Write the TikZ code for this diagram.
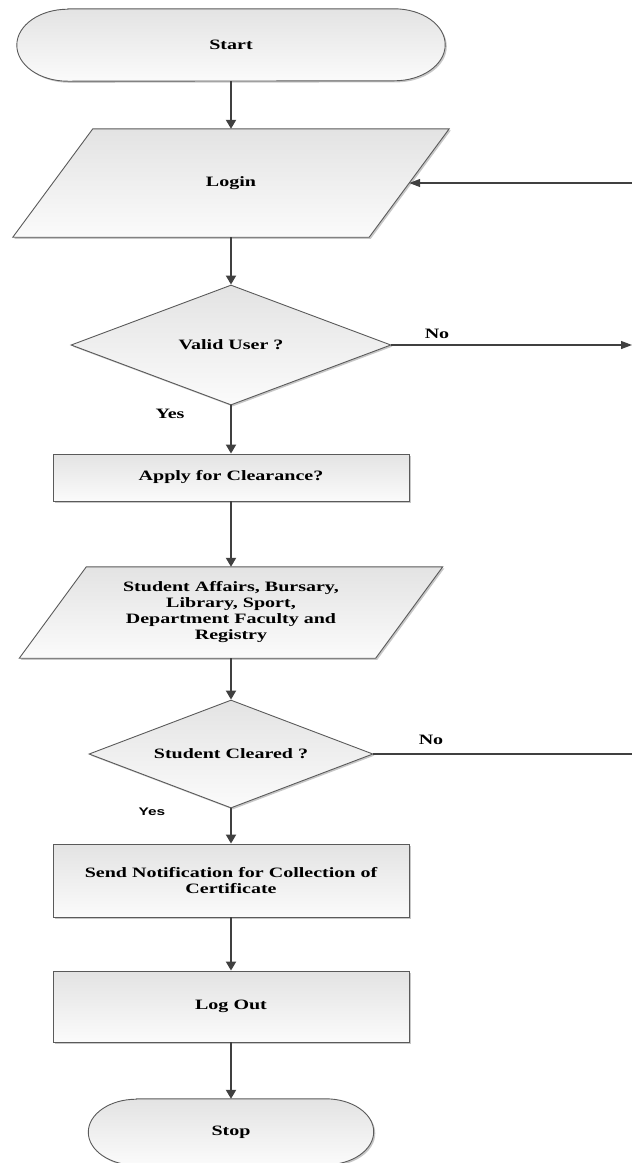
\documentclass[tikz,border=0pt]{standalone}
\usepackage{fontspec}
\setmainfont{Liberation Serif}[FakeStretch=1.4]
\newfontfamily\sansyes{Liberation Sans}[FakeStretch=1.4]
\usetikzlibrary{shapes.geometric,arrows.meta,shadows,calc,backgrounds}
\definecolor{bordc}{HTML}{5A5A5A}
\definecolor{arrc}{HTML}{404040}
\definecolor{topc}{HTML}{E3E3E3}
\definecolor{botc}{HTML}{FBFBFB}
\tikzset{
  txt/.style={font=\fontsize{14.3}{16}\selectfont\bfseries, align=center, inner sep=0pt, text=black},
  shp/.style={draw=bordc, line width=0.9pt, top color=topc, bottom color=botc,
    drop shadow={shadow xshift=1.6pt, shadow yshift=-1.6pt, fill=black!22, opacity=1}},
  body/.style={txt, rectangle, minimum width=#1},
  decision/.style={txt, shp, diamond, aspect=2.65},
  vconn/.style={draw=arrc, line width=2pt, -{Triangle[length=9pt,width=10pt]}},
  hconn/.style={draw=arrc, line width=1.2pt},
  harrow/.style={hconn, -{Triangle[length=11pt,width=8pt]}},
  lbl/.style={font=\fontsize{14.3}{16}\selectfont\bfseries, inner sep=0pt, text=black}
}
\begin{document}
\begin{tikzpicture}[x=1pt,y=-1pt]
\useasboundingbox (0,0) rectangle (632,1163);

% Start / Login
\node[body=428pt, minimum height=72pt] (start) at (231,45) {Start};
\node[body=356pt, minimum height=108pt] (login) at (231,183) {Login};
% Decision 1
\node[decision, minimum width=320pt, minimum height=120pt] (valid) at (231,345) {Valid User ?};
% Apply
\node[txt, shp, rectangle, minimum width=356pt, minimum height=47pt] (apply) at (231,477.5) {Apply for Clearance?};
% Offices
\node[body=356pt, minimum height=91pt] (offices) at (231,612.5) {Student Affairs, Bursary,\\Library, Sport,\\Department Faculty and\\Registry};
% Decision 2
\node[decision, minimum width=284pt, minimum height=108pt] (cleared) at (231,754) {Student Cleared ?};
% Send notification
\node[txt, shp, rectangle, minimum width=356pt, minimum height=73pt] (send) at (231,880.5) {Send Notification for Collection of\\Certificate};
% Log out
\node[txt, shp, rectangle, minimum width=356pt, minimum height=71pt] (logout) at (231,1006.5) {Log Out};
% Stop
\node[body=285pt, minimum height=66pt] (stop) at (231,1132) {Stop};

% outlines drawn behind the texts
\begin{scope}[on background layer]
  \path[shp] ($(start.north west)+(51,0)$) -- ($(start.north east)+(-51,0)$)
    arc[start angle=90,end angle=-90,x radius=51pt,y radius=36pt]
    -- ($(start.south west)+(51,0)$)
    arc[start angle=270,end angle=90,x radius=51pt,y radius=36pt] -- cycle;
  \path[shp] ($(login.north west)+(40,0)$) -- ($(login.north east)+(40,0)$)
    -- ($(login.south east)+(-40,0)$) -- ($(login.south west)+(-40,0)$) -- cycle;
  \path[shp] ($(offices.north west)+(33.5,0)$) -- ($(offices.north east)+(33.5,0)$)
    -- ($(offices.south east)+(-33.5,0)$) -- ($(offices.south west)+(-33.5,0)$) -- cycle;
  \path[shp] ($(stop.north west)+(48,0)$) -- ($(stop.north east)+(-48,0)$)
    arc[start angle=90,end angle=-90,x radius=48pt,y radius=33pt]
    -- ($(stop.south west)+(48,0)$)
    arc[start angle=270,end angle=90,x radius=48pt,y radius=33pt] -- cycle;
\end{scope}

% labels
\node[lbl] (no1) at (437,334) {No};
\node[lbl] (yes1) at (170,414) {Yes};
\node[lbl] (no2) at (431,740) {No};
\node[font=\sansyes\fontsize{11}{13}\selectfont\bfseries, inner sep=0pt] (yes2) at (152,812) {Yes};

% free ends
\coordinate (loginR) at (632,183);
\coordinate (validR) at (632,345);
\coordinate (clearedR) at (632,754);

% connectors
\draw[vconn] (start.south) -- (login.north);
\draw[vconn] (login.south) -- (valid.north);
\draw[vconn] (valid.south) -- (apply.north);
\draw[vconn] (apply.south) -- (offices.north);
\draw[vconn] (offices.south) -- (cleared.north);
\draw[vconn] (cleared.south) -- (send.north);
\draw[vconn] (send.south) -- (logout.north);
\draw[vconn] (logout.south) -- (stop.north);
\draw[harrow] (loginR) -- (login.east);
\draw[harrow] (valid.east) -- (validR);
\draw[hconn] (cleared.east) -- (clearedR);
\end{tikzpicture}
\end{document}
